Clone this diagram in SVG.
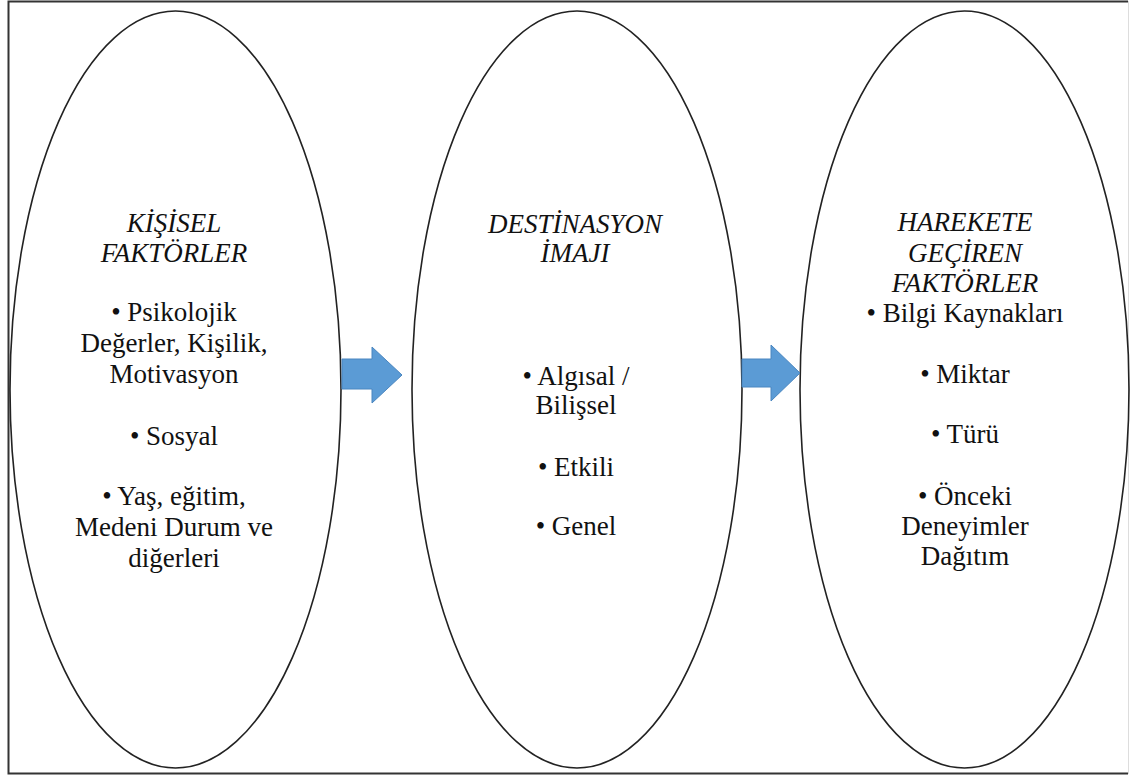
<svg xmlns="http://www.w3.org/2000/svg" width="1130" height="778" viewBox="0 0 1130 778">
<style>
.frame{fill:none;stroke:#333;stroke-width:2}
.ell{fill:none;stroke:#222;stroke-width:1.6}
.arr{fill:#5B9BD5;stroke:#4A86C0;stroke-width:1}
</style>
<rect width="1130" height="778" fill="#fff"/>
<path class="frame" d="M1128,1.5 H8.5 V773.5 H1128"/>
<line x1="1128.5" y1="1" x2="1128.5" y2="774" stroke="#ddd" stroke-width="1"/>
<g id="node-kisisel">
<ellipse class="ell" cx="175.5" cy="389.5" rx="165.5" ry="378.5"/>
<text font-family="Liberation Serif, DejaVu Serif, serif" font-size="27" fill="#111" text-anchor="middle" font-style="italic" x="174" y="232">KİŞİSEL</text>
<text font-family="Liberation Serif, DejaVu Serif, serif" font-size="27" fill="#111" text-anchor="middle" font-style="italic" x="174" y="262">FAKTÖRLER</text>
<text font-family="Liberation Serif, DejaVu Serif, serif" font-size="27" fill="#111" text-anchor="middle" x="174" y="321">• Psikolojik</text>
<text font-family="Liberation Serif, DejaVu Serif, serif" font-size="27" fill="#111" text-anchor="middle" x="174" y="352">Değerler, Kişilik,</text>
<text font-family="Liberation Serif, DejaVu Serif, serif" font-size="27" fill="#111" text-anchor="middle" x="174" y="383">Motivasyon</text>
<text font-family="Liberation Serif, DejaVu Serif, serif" font-size="27" fill="#111" text-anchor="middle" x="174" y="445">• Sosyal</text>
<text font-family="Liberation Serif, DejaVu Serif, serif" font-size="27" fill="#111" text-anchor="middle" x="174" y="505">• Yaş, eğitim,</text>
<text font-family="Liberation Serif, DejaVu Serif, serif" font-size="27" fill="#111" text-anchor="middle" x="174" y="536">Medeni Durum ve</text>
<text font-family="Liberation Serif, DejaVu Serif, serif" font-size="27" fill="#111" text-anchor="middle" x="174" y="567">diğerleri</text>
</g>
<g id="node-imaj">
<ellipse class="ell" cx="577" cy="389.5" rx="165" ry="378.5"/>
<text font-family="Liberation Serif, DejaVu Serif, serif" font-size="27" fill="#111" text-anchor="middle" font-style="italic" x="575" y="233">DESTİNASYON</text>
<text font-family="Liberation Serif, DejaVu Serif, serif" font-size="27" fill="#111" text-anchor="middle" font-style="italic" x="575" y="262">İMAJI</text>
<text font-family="Liberation Serif, DejaVu Serif, serif" font-size="27" fill="#111" text-anchor="middle" x="576" y="385">• Algısal /</text>
<text font-family="Liberation Serif, DejaVu Serif, serif" font-size="27" fill="#111" text-anchor="middle" x="576" y="414">Bilişsel</text>
<text font-family="Liberation Serif, DejaVu Serif, serif" font-size="27" fill="#111" text-anchor="middle" x="576" y="476">• Etkili</text>
<text font-family="Liberation Serif, DejaVu Serif, serif" font-size="27" fill="#111" text-anchor="middle" x="576" y="535">• Genel</text>
</g>
<g id="node-harekete">
<ellipse class="ell" cx="964.5" cy="389.5" rx="164.5" ry="378.5"/>
<text font-family="Liberation Serif, DejaVu Serif, serif" font-size="27" fill="#111" text-anchor="middle" font-style="italic" x="965" y="231">HAREKETE</text>
<text font-family="Liberation Serif, DejaVu Serif, serif" font-size="27" fill="#111" text-anchor="middle" font-style="italic" x="965" y="262">GEÇİREN</text>
<text font-family="Liberation Serif, DejaVu Serif, serif" font-size="27" fill="#111" text-anchor="middle" font-style="italic" x="965" y="292">FAKTÖRLER</text>
<text font-family="Liberation Serif, DejaVu Serif, serif" font-size="27" fill="#111" text-anchor="middle" x="965" y="322">• Bilgi Kaynakları</text>
<text font-family="Liberation Serif, DejaVu Serif, serif" font-size="27" fill="#111" text-anchor="middle" x="965" y="383">• Miktar</text>
<text font-family="Liberation Serif, DejaVu Serif, serif" font-size="27" fill="#111" text-anchor="middle" x="965" y="443">• Türü</text>
<text font-family="Liberation Serif, DejaVu Serif, serif" font-size="27" fill="#111" text-anchor="middle" x="965" y="505">• Önceki</text>
<text font-family="Liberation Serif, DejaVu Serif, serif" font-size="27" fill="#111" text-anchor="middle" x="965" y="535">Deneyimler</text>
<text font-family="Liberation Serif, DejaVu Serif, serif" font-size="27" fill="#111" text-anchor="middle" x="965" y="565">Dağıtım</text>
</g>
<g id="connectors">
<polygon class="arr" points="342,359 372,359 372,347 402,375 372,403 372,389 342,389"/>
<polygon class="arr" points="742,359 771,359 771,345 800,373 771,401 771,387 742,387"/>
</g>
</svg>
